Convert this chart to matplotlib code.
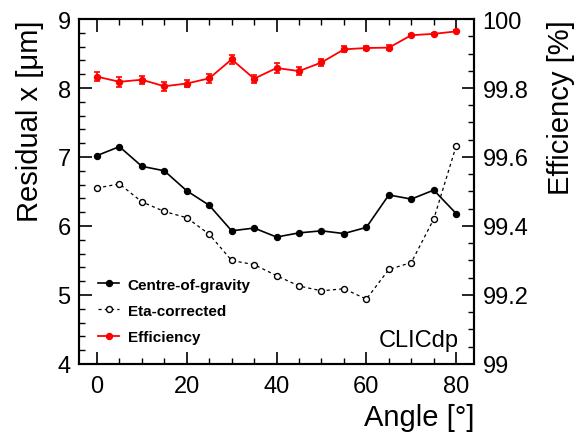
import numpy as np
import matplotlib
matplotlib.use('Agg')
import matplotlib.pyplot as plt
from matplotlib.ticker import MultipleLocator
from matplotlib.lines import Line2D

plt.rcParams['font.family'] = ['Liberation Sans', 'DejaVu Sans']

# data
angle = np.arange(0, 85, 5)
cog = [7.02, 7.15, 6.865, 6.80, 6.51, 6.30, 5.93, 5.97, 5.84, 5.90, 5.93, 5.89, 5.98, 6.45, 6.39, 6.52, 6.18]
eta = [6.55, 6.61, 6.35, 6.21, 6.12, 5.88, 5.50, 5.44, 5.28, 5.13, 5.06, 5.09, 4.94, 5.37, 5.47, 6.10, 7.16]
eff = [99.833, 99.818, 99.824, 99.805, 99.813, 99.828, 99.883, 99.827, 99.858, 99.849,
       99.874, 99.912, 99.916, 99.917, 99.953, 99.957, 99.964]
eff_err = [0.012, 0.015, 0.012, 0.013, 0.010, 0.013, 0.014, 0.012, 0.014, 0.012,
           0.010, 0.009, 0.007, 0.007, 0.004, 0.003, 0.003]
eff_ticks = [99, 99.2, 99.4, 99.6, 99.8, 100]
eff_labels = ['99', '99.2', '99.4', '99.6', '99.8', '100']

fig = plt.figure(figsize=(5.82, 4.35), dpi=100)
ax = fig.add_axes([0.1357, 0.161, 0.679, 0.793])
ax2 = ax.twinx()

l1, = ax.plot(angle, cog, '-o', color='black', lw=1.2, ms=4.3, label='Centre-of-gravity')
l2, = ax.plot(angle, eta, '--o', color='black', lw=0.9, ms=4.3, mfc='white',
              dashes=(2.5, 2.5), label='Eta-corrected')
ax2.errorbar(angle, eff, yerr=eff_err, fmt='-o', color='red', lw=1.3, ms=4.3,
             capsize=2.3, elinewidth=1.2, capthick=1.2)
l3 = Line2D([], [], color='red', marker='o', lw=1.3, ms=4.3, label='Efficiency')

ax.set_xlim(-4, 84)
ax.set_ylim(4, 9)
ax2.set_ylim(99, 100)

ax.xaxis.set_major_locator(MultipleLocator(20))
ax.xaxis.set_minor_locator(MultipleLocator(5))
ax.yaxis.set_major_locator(MultipleLocator(1))
ax.yaxis.set_minor_locator(MultipleLocator(0.2))
ax2.yaxis.set_minor_locator(MultipleLocator(0.05))
ax2.set_yticks(eff_ticks)
ax2.set_yticklabels(eff_labels)

ax.tick_params(axis='both', which='both', direction='in', top=True, right=False, labelsize=17)
ax.tick_params(which='major', length=9, width=1.2)
ax.tick_params(which='minor', length=4.5, width=1.0)
ax.tick_params(axis='x', pad=8)
ax.tick_params(axis='y', pad=6)
ax2.tick_params(axis='y', which='both', direction='in', labelsize=17, pad=6)
ax2.tick_params(which='major', length=9, width=1.2)
ax2.tick_params(which='minor', length=4.5, width=1.0)
for a in (ax, ax2):
    for s in a.spines.values():
        s.set_linewidth(1.5)

ax.set_xlabel('Angle [°]', fontsize=21, loc='right', labelpad=4)
ax.set_ylabel('Residual x [μm]', fontsize=21, loc='top', labelpad=10)
ax2.set_ylabel('Efficiency [%]', fontsize=21, loc='top', labelpad=13)

ax.legend(handles=[l1, l2, l3], loc='lower left', bbox_to_anchor=(0.048, 0.058), frameon=False,
          prop={'weight': 'bold', 'size': 11}, handlelength=1.4, handletextpad=0.55,
          labelspacing=0.8, borderpad=0, borderaxespad=0)
ax.text(0.96, 0.052, 'CLICdp', transform=ax.transAxes, ha='right', va='baseline', fontsize=17)

fig.savefig('out.png', dpi=100)
